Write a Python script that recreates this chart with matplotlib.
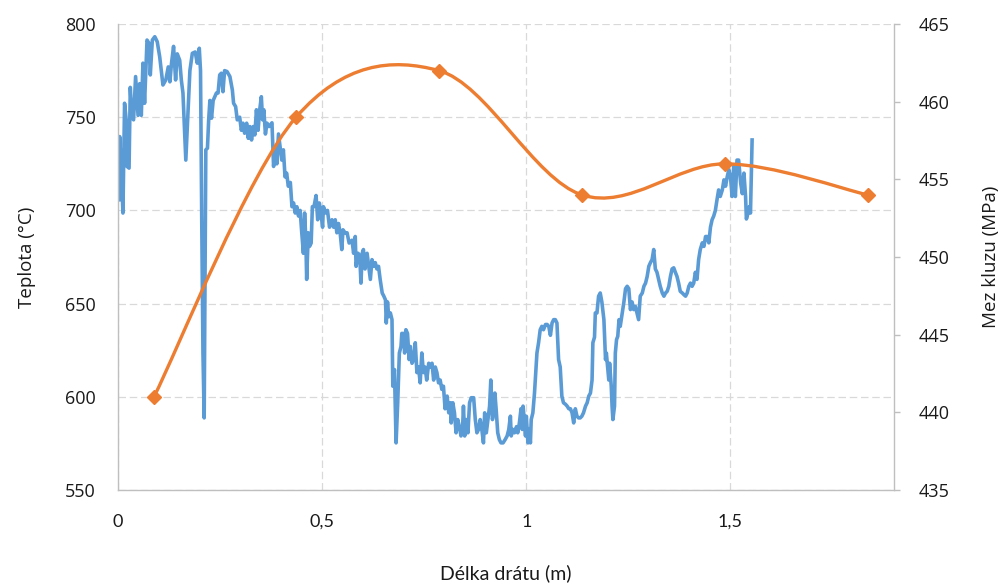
import matplotlib
matplotlib.use("Agg")
import matplotlib.pyplot as plt
from matplotlib.path import Path
from matplotlib.patches import PathPatch
from matplotlib.ticker import FuncFormatter
import numpy as np

# temperature measured along the wire (blue)
temp_x = [0.002, 0.004, 0.008, 0.012, 0.016, 0.020, 0.022, 0.027, 0.030, 0.034, 0.038, 0.043, 0.049, 0.053,
          0.057, 0.061, 0.065, 0.071, 0.076, 0.079, 0.084, 0.090, 0.096, 0.102, 0.110, 0.117, 0.123, 0.127,
          0.131, 0.136, 0.141, 0.145, 0.151, 0.155, 0.159, 0.166, 0.172, 0.176, 0.182, 0.189, 0.194, 0.199,
          0.202, 0.205, 0.208, 0.211, 0.213, 0.215, 0.219, 0.222, 0.225, 0.229, 0.233, 0.237, 0.241, 0.245,
          0.249, 0.253, 0.257, 0.261, 0.267, 0.274, 0.280, 0.283, 0.288, 0.292, 0.298, 0.302, 0.306, 0.310,
          0.315, 0.319, 0.323, 0.327, 0.331, 0.335, 0.339, 0.343, 0.347, 0.351, 0.354, 0.357, 0.361, 0.365,
          0.370, 0.377, 0.381, 0.385, 0.389, 0.393, 0.397, 0.401, 0.405, 0.409, 0.413, 0.417, 0.422, 0.426,
          0.430, 0.434, 0.438, 0.442, 0.446, 0.450, 0.454, 0.457, 0.460, 0.462, 0.466, 0.469, 0.473, 0.476,
          0.480, 0.485, 0.489, 0.493, 0.497, 0.501, 0.503, 0.509, 0.513, 0.518, 0.524, 0.528, 0.532, 0.536,
          0.540, 0.544, 0.548, 0.551, 0.556, 0.561, 0.566, 0.573, 0.577, 0.581, 0.583, 0.588, 0.592, 0.595,
          0.598, 0.601, 0.605, 0.610, 0.614, 0.618, 0.622, 0.626, 0.630, 0.634, 0.638, 0.642, 0.647, 0.651,
          0.655, 0.657, 0.660, 0.663, 0.667, 0.671, 0.673, 0.677, 0.681, 0.685, 0.689, 0.693, 0.695, 0.699,
          0.702, 0.705, 0.709, 0.713, 0.716, 0.720, 0.724, 0.728, 0.732, 0.736, 0.740, 0.744, 0.748, 0.752,
          0.756, 0.761, 0.765, 0.769, 0.773, 0.777, 0.781, 0.785, 0.789, 0.793, 0.797, 0.801, 0.806, 0.810,
          0.814, 0.816, 0.820, 0.824, 0.828, 0.832, 0.836, 0.840, 0.844, 0.846, 0.849, 0.853, 0.857, 0.861,
          0.865, 0.871, 0.875, 0.879, 0.883, 0.887, 0.891, 0.895, 0.898, 0.902, 0.906, 0.910, 0.913, 0.917,
          0.920, 0.923, 0.926, 0.930, 0.934, 0.938, 0.943, 0.948, 0.953, 0.957, 0.961, 0.963, 0.967, 0.971,
          0.976, 0.979, 0.983, 0.987, 0.990, 0.992, 0.995, 0.998, 1.000, 1.004, 1.007, 1.010, 1.012, 1.016,
          1.020, 1.023, 1.026, 1.030, 1.034, 1.038, 1.042, 1.047, 1.051, 1.055, 1.059, 1.063, 1.067, 1.071,
          1.075, 1.079, 1.083, 1.087, 1.091, 1.096, 1.100, 1.104, 1.108, 1.112, 1.116, 1.120, 1.124, 1.128,
          1.132, 1.136, 1.140, 1.145, 1.149, 1.153, 1.157, 1.161, 1.163, 1.167, 1.169, 1.173, 1.177, 1.181,
          1.185, 1.190, 1.194, 1.196, 1.199, 1.202, 1.204, 1.208, 1.210, 1.212, 1.216, 1.218, 1.221, 1.224,
          1.227, 1.230, 1.235, 1.239, 1.243, 1.247, 1.251, 1.255, 1.259, 1.263, 1.267, 1.271, 1.275, 1.279,
          1.284, 1.288, 1.292, 1.296, 1.300, 1.304, 1.308, 1.312, 1.316, 1.320, 1.324, 1.328, 1.333, 1.337,
          1.341, 1.345, 1.349, 1.353, 1.357, 1.361, 1.365, 1.369, 1.373, 1.377, 1.382, 1.386, 1.390, 1.394,
          1.398, 1.402, 1.406, 1.410, 1.414, 1.418, 1.422, 1.426, 1.431, 1.435, 1.439, 1.443, 1.447, 1.451,
          1.455, 1.459, 1.463, 1.467, 1.471, 1.475, 1.480, 1.484, 1.488, 1.492, 1.496, 1.500, 1.504, 1.508,
          1.512, 1.516, 1.520, 1.525, 1.529, 1.533, 1.537, 1.539, 1.543, 1.546, 1.549, 1.553]
temp_y = [705.7, 739.6, 721.8, 698.6, 757.5, 748.6, 723.6, 722.7, 766, 750, 748.6, 771.8, 751, 768,
          751, 779, 757.5, 791.4, 789.6, 772.7, 791.4, 793.2, 790.5, 782.5, 767.3, 770, 777, 769,
          779, 788, 770, 784, 780.6, 770, 763, 727, 755.7, 775, 784.3, 785, 779, 787,
          775, 695, 623.5, 588.7, 659, 732.5, 733.4, 748.6, 759, 749.5, 759, 761, 763, 763,
          772.7, 773.6, 763.7, 775, 774.5, 771.8, 764.6, 757.5, 755.7, 748.6, 750, 743, 746.8, 741.4,
          746.8, 738.7, 745, 737.8, 745, 740.5, 754, 743, 754, 761, 748.6, 754, 741, 746.8,
          745, 747, 723.6, 734, 725, 741, 734, 727, 732.5, 718, 720, 713, 715, 702,
          704, 698.6, 702, 697, 700, 688, 677, 698.6, 684, 663, 688, 680.7, 682.5, 702,
          702, 708, 695, 704, 698.6, 691, 702, 698.6, 700, 691, 695, 691, 695, 688,
          693, 688, 679, 689.6, 688, 688, 682.5, 684, 677, 686, 670, 677, 675.4, 661,
          677, 679, 668.6, 677, 670, 663, 673.6, 670, 672, 668.6, 670, 663, 655.7, 654,
          652, 639.6, 650.9, 643, 645, 641.4, 605.7, 614.6, 575.3, 596.8, 623.5, 627, 634, 634,
          623.5, 636, 634, 620, 627, 618, 620, 629, 613, 616, 607.5, 623.5, 613, 616,
          609, 618, 616, 618, 609, 616, 613, 607.5, 609, 604, 605.7, 593.6, 600.4, 591.4,
          596.8, 586, 596.8, 591.4, 580.7, 587.8, 584, 579, 584, 595, 579, 587.8, 580.7, 596.8,
          599.5, 599.5, 587.8, 580.7, 582.5, 587.8, 582.5, 575.3, 591.4, 580.7, 587.8, 595, 609, 587.8,
          591.4, 602, 593.6, 580.7, 577, 575.3, 575.3, 577, 579, 582.5, 589.6, 579, 582.5, 580.7,
          584, 580.7, 586, 593.6, 582.5, 595, 587.8, 579, 589.6, 575.3, 582.5, 575.3, 587.8, 591.4,
          602, 613, 623.5, 629, 636, 637.8, 636, 638.8, 638.8, 637.8, 633, 639.6, 641.4, 641.4,
          639.6, 620, 616, 600.4, 596.8, 596, 595, 593.6, 593.6, 591.4, 586, 593.6, 589.6, 588.7,
          588.7, 589.6, 591.4, 595, 596.8, 600.4, 602, 609, 629, 632, 645, 645, 654, 655.7,
          650.9, 641.4, 620, 623.5, 616, 609, 618, 605.7, 595, 587.8, 595, 623.5, 630.7, 632.5,
          641.4, 637.8, 645, 650.9, 658, 659.3, 658, 646.8, 650.9, 646.8, 648.6, 645, 641.4, 654,
          655.7, 659.3, 661, 664.6, 670, 672, 673.6, 679, 668.6, 666.8, 663, 659.3, 655.7, 654,
          655.7, 656.6, 659.3, 664.6, 668.6, 669.2, 666.8, 664.6, 661, 656.6, 655.7, 654.8, 654, 655.7,
          659.3, 661, 659.3, 661, 666.8, 663, 673.6, 679, 682.6, 680.7, 686, 686, 682.6, 691,
          695, 697, 700, 705.7, 711, 707.5, 711, 716.4, 713, 718, 721.8, 718, 707.5, 723.6,
          707.5, 727, 727, 714.6, 709, 720, 707.5, 695.4, 698.6, 702, 698.6, 737.8]

# yield strength at the sampled positions (orange)
yield_x = [0.088, 0.436, 0.786, 1.136, 1.486, 1.836]
yield_y = [441, 459, 462, 454, 456, 454]

BLUE = "#5B9BD5"
ORANGE = "#ED7D31"
GRID = "#D9D9D9"
SPINE = "#BFBFBF"
TXT = "#1a1a1a"


def smooth_path(xs, ys):
    # Excel-like smoothed line: cubic Bezier segments through the points
    pts = np.column_stack([xs, ys]).astype(float)
    n = len(pts)
    verts = [tuple(pts[0])]
    codes = [Path.MOVETO]
    for i in range(n - 1):
        p0 = pts[max(i - 1, 0)]
        p1 = pts[i]
        p2 = pts[i + 1]
        p3 = pts[min(i + 2, n - 1)]
        c1 = p1 + (p2 - p0) / 6.0
        c2 = p2 - (p3 - p1) / 6.0
        verts += [tuple(c1), tuple(c2), tuple(p2)]
        codes += [Path.CURVE4] * 3
    return Path(verts, codes)


fig = plt.figure(figsize=(10.02, 5.86), dpi=100)
ax = fig.add_axes([0.1178, 0.1638, 0.7742, 0.7952])
ax2 = ax.twinx()

ax.plot(temp_x, temp_y, color=BLUE, linewidth=2.6, solid_joinstyle="round")
ax.set_xlim(0, 1.9)
ax.set_ylim(550, 800)
ax.set_xticks([0, 0.5, 1, 1.5])
ax.set_yticks(np.arange(550, 801, 50))
ax.xaxis.set_major_formatter(FuncFormatter(lambda v, p: f"{v:g}".replace(".", ",")))
ax.set_axisbelow(True)
ax.grid(True, color=GRID, linestyle=(0, (6, 3)), linewidth=0.9)

patch = PathPatch(smooth_path(yield_x, yield_y), facecolor="none", edgecolor=ORANGE,
                  linewidth=2.4, capstyle="round")
ax2.add_patch(patch)
ax2.plot(yield_x, yield_y, linestyle="none", marker="D", markersize=7.5, color=ORANGE)
ax2.set_ylim(435, 465)
ax2.set_yticks(np.arange(435, 466, 5))

ax.spines["top"].set_visible(False)
ax2.spines["top"].set_visible(False)
ax.spines["right"].set_visible(False)
ax2.spines["left"].set_visible(False)
ax2.spines["bottom"].set_visible(False)
for sp in [ax.spines["left"], ax.spines["bottom"], ax2.spines["right"]]:
    sp.set_color(SPINE)
    sp.set_linewidth(1.0)

ax.tick_params(axis="y", length=0, pad=16, labelsize=13, labelcolor=TXT)
ax.tick_params(axis="x", length=0, pad=17, labelsize=13, labelcolor=TXT)
ax2.tick_params(axis="y", length=4, width=1, color=SPINE, pad=14, labelsize=13, labelcolor=TXT)

for lab in ax.get_yticklabels() + ax2.get_yticklabels():
    lab.set_family("Open Sans")
for lab in ax.get_xticklabels():
    lab.set_family("Lato")

ax.set_xlabel("Délka drátu (m)", fontsize=14, family="Lato", color=TXT, labelpad=25)
ax.set_ylabel("Teplota (°C)", fontsize=13.5, family="Open Sans", color=TXT, labelpad=21)
ax2.set_ylabel("Mez kluzu (MPa)", fontsize=13.5, family="Open Sans", color=TXT, labelpad=23)

fig.savefig("out.png", dpi=100)
